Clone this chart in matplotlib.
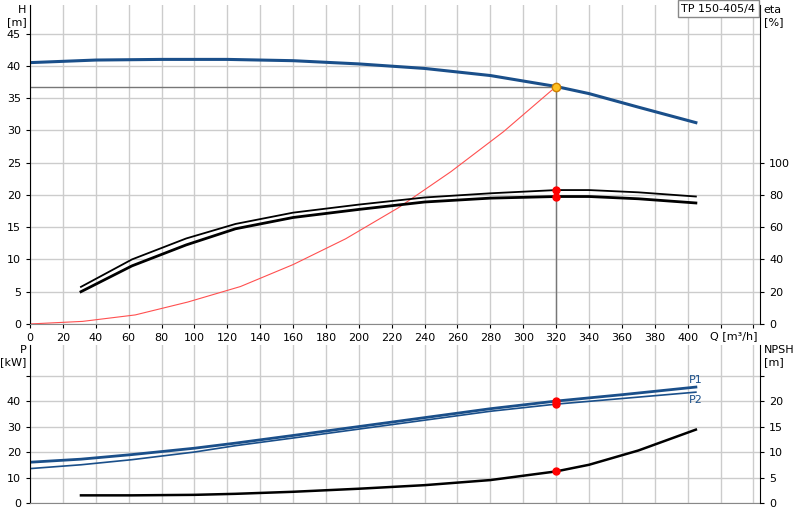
import matplotlib
matplotlib.use("Agg")
import matplotlib.pyplot as plt
import numpy as np

q_h = [0, 40, 80, 120, 160, 200, 240, 280, 320, 340, 370, 405]
h = [40.5, 40.9, 41.0, 41.0, 40.8, 40.3, 39.6, 38.5, 36.8, 35.7, 33.6, 31.2]
q_eta = [31, 62, 95, 125, 160, 200, 240, 280, 320, 340, 370, 405]
eta_p = [23, 40, 53, 62, 69, 74, 78.4, 81, 83, 83, 81.6, 79]
eta_h = [20, 36, 49, 59, 66, 71, 75.6, 78, 79, 79, 77.6, 75]
q_sys = [0, 32, 64, 96, 128, 160, 192, 224, 256, 288, 320]
h_sys = [0, 0.4, 1.4, 3.4, 5.8, 9.2, 13.2, 18, 23.6, 29.8, 36.8]
q_p = [0, 31, 62, 100, 125, 160, 200, 240, 280, 320, 360, 405]
p1 = [16, 17.2, 19, 21.5, 23.5, 26.5, 30, 33.5, 37, 40, 42.5, 45.5]
p2 = [13.5, 15, 17, 20, 22.5, 25.5, 29, 32.5, 36, 38.8, 41, 43.5]
q_npsh = [31, 62, 100, 125, 160, 200, 240, 280, 320, 340, 370, 405]
npsh = [1.5, 1.5, 1.6, 1.8, 2.2, 2.8, 3.5, 4.5, 6.2, 7.5, 10.3, 14.4]
q_op, h_op = 320, 36.8

blue = "#1a4f8a"
fig = plt.figure(figsize=(8, 5.2), dpi=100)
ax = fig.add_axes([0.0375, 0.377, 0.9125, 0.613])
ax.set_xlim(0, 444); ax.set_ylim(0, 49.4)
ax.set_xticks(range(0, 441, 20)); ax.set_yticks(range(0, 46, 5))
ax.set_xticklabels([str(v) if v <= 400 else "" for v in range(0, 441, 20)])
ax.grid(True, color="#cccccc", lw=1)
ax.set_axisbelow(True)
for s in ["top", "right"]:
    ax.spines[s].set_visible(False)
ax.spines["left"].set_color("black")
ax.spines["bottom"].set_color("#888888")
ax.tick_params(labelsize=8, length=3)
ax.plot(q_h, h, color=blue, lw=2.2)
ax.plot(q_sys, h_sys, color="#ff5050", lw=0.8)
ax.plot([0, q_op], [h_op, h_op], color="#777777", lw=1)
ax.plot([q_op, q_op], [0, h_op], color="#777777", lw=1)
ax.plot(q_eta, [v / 4 for v in eta_p], color="black", lw=1.3)
ax.plot(q_eta, [v / 4 for v in eta_h], color="black", lw=2)
ax.plot([q_op], [eta_p[8] / 4], "o", color="red", ms=5)
ax.plot([q_op], [eta_h[8] / 4], "o", color="red", ms=5)
ax.plot([q_op], [h_op], "o", color="#ffc020", mec="#d08000", ms=6)
ax.text(-0.005, 1.0, "H\n[m]", transform=ax.transAxes, ha="right", va="top", fontsize=8)
ax.text(1.005, 1.0, "eta\n[%]", transform=ax.transAxes, ha="left", va="top", fontsize=8)
ax.text(428, -1.1, "Q [m³/h]", ha="center", va="top", fontsize=8)
ax2 = ax.twinx()
ax2.set_ylim(0, 49.4 * 4)
ax2.set_yticks(range(0, 101, 20))
ax2.tick_params(labelsize=8, length=3)
for s in ["top", "left", "bottom"]:
    ax2.spines[s].set_visible(False)
fig.text(0.944, 0.993, "TP 150-405/4", ha="right", va="top", fontsize=8,
         bbox=dict(boxstyle="square,pad=0.3", fc="white", ec="#888888"))

bx = fig.add_axes([0.0375, 0.0327, 0.9125, 0.3038])
bx.set_xlim(0, 444); bx.set_ylim(0, 62)
bx.set_xticks(range(0, 441, 20)); bx.set_xticklabels([])
bx.set_yticks([0, 10, 20, 30, 40, 50])
bx.set_yticklabels(["0", "10", "20", "30", "40", ""])
bx.tick_params(labelsize=8, length=3, axis="y")
bx.tick_params(axis="x", length=0)
bx.grid(True, color="#cccccc", lw=1)
bx.set_axisbelow(True)
for s in ["top", "right"]:
    bx.spines[s].set_visible(False)
bx.spines["bottom"].set_color("#888888")
bx.plot(q_p, p1, color=blue, lw=2)
bx.plot(q_p, p2, color=blue, lw=1.2)
bx.plot([q_op], [p1[9]], "o", color="red", ms=5)
bx.plot([q_op], [p2[9]], "o", color="red", ms=5)
bx.text(q_p[-1], p1[-1] + 1, "P1", color=blue, fontsize=8, ha="center", va="bottom")
bx.text(q_p[-1], p2[-1] - 1, "P2", color=blue, fontsize=8, ha="center", va="top")
bx.text(-0.005, 1.0, "P\n[kW]", transform=bx.transAxes, ha="right", va="top", fontsize=8)
bx2 = bx.twinx()
bx2.set_ylim(0, 31)
bx2.set_yticks(range(0, 26, 5))
bx2.set_yticklabels(["0", "5", "10", "15", "20", ""])
bx2.tick_params(labelsize=8, length=3)
for s in ["top", "left", "bottom"]:
    bx2.spines[s].set_visible(False)
bx2.plot(q_npsh, npsh, color="black", lw=1.8)
bx2.plot([q_op], [npsh[8]], "o", color="red", ms=5)
bx2.text(1.005, 1.0, "NPSH\n[m]", transform=bx.transAxes, ha="left", va="top", fontsize=8)
fig.savefig("out.png", dpi=100)
